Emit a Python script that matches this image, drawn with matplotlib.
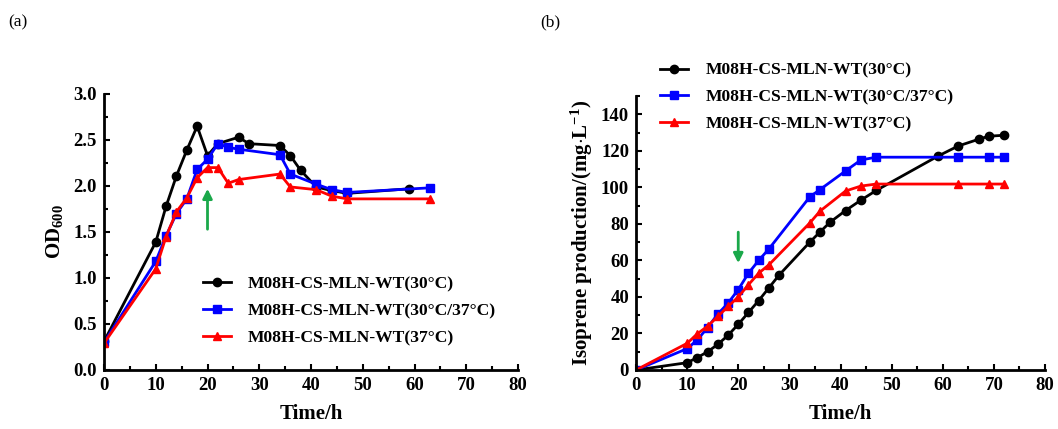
import matplotlib
matplotlib.use("Agg")
import matplotlib.pyplot as plt
from matplotlib.ticker import MultipleLocator

plt.rcParams["font.family"] = ["Liberation Serif", "DejaVu Serif"]
plt.rcParams["font.weight"] = "bold"
plt.rcParams["mathtext.fontset"] = "custom"
plt.rcParams["mathtext.rm"] = "Liberation Serif:bold"
plt.rcParams["mathtext.bf"] = "Liberation Serif:bold"
plt.rcParams["mathtext.it"] = "Liberation Serif:bold"

labels = ["M08H-CS-MLN-WT(30°C)", "M08H-CS-MLN-WT(30°C/37°C)", "M08H-CS-MLN-WT(37°C)"]
colors = ["black", "#0000ff", "#ff0000"]
markers = ["o", "s", "^"]

# (a) OD600
od_t_30 = [0, 10, 12, 14, 16, 18, 20, 22, 26, 28, 34, 36, 38, 41, 44, 47, 59]
od_30 = [0.31, 1.39, 1.78, 2.11, 2.39, 2.65, 2.33, 2.46, 2.53, 2.46, 2.44, 2.33, 2.17, 1.99, 1.95, 1.92, 1.97]
od_t = [0, 10, 12, 14, 16, 18, 20, 22, 24, 26, 34, 36, 41, 44, 47, 63]
od_shift = [0.30, 1.18, 1.46, 1.70, 1.86, 2.18, 2.29, 2.46, 2.42, 2.40, 2.34, 2.13, 2.02, 1.96, 1.93, 1.98]
od_37 = [0.29, 1.10, 1.45, 1.72, 1.87, 2.09, 2.20, 2.20, 2.03, 2.07, 2.13, 1.99, 1.96, 1.89, 1.86, 1.86]

# (b) isoprene production, mg/L
iso_t_30 = [0, 10, 12, 14, 16, 18, 20, 22, 24, 26, 28, 34, 36, 38, 41, 44, 47, 59, 63, 67, 69, 72]
iso_30 = [0, 4.0, 6.8, 10, 14, 19, 25, 31.5, 38, 45, 52, 70, 75.6, 81, 87.3, 93, 98.3, 117, 122.6, 126.3, 128, 128.5]
iso_t = [0, 10, 12, 14, 16, 18, 20, 22, 24, 26, 34, 36, 41, 44, 47, 63, 69, 72]
iso_shift = [0, 11.7, 16.5, 23.2, 30.6, 36.6, 44, 53, 60, 66.3, 94.8, 98.8, 109, 115, 116.5, 116.5, 116.5, 116.5]
iso_37 = [0, 14.6, 19.8, 24, 29.3, 34.8, 40, 46.7, 53, 57.6, 80.5, 87, 98, 100.7, 101.8, 101.8, 101.8, 101.8]

fig = plt.figure(figsize=(10.58, 4.29), dpi=100)
W, H = 1058, 429
ax1 = fig.add_axes([104 / W, 1 - 370 / H, 414 / W, 276 / H])
ax2 = fig.add_axes([636 / W, 1 - 370 / H, 409 / W, 274 / H])


def style(ax):
    for s in ("top", "right"):
        ax.spines[s].set_visible(False)
    for s in ("left", "bottom"):
        ax.spines[s].set_linewidth(2)
    ax.set_xlim(0, 80)
    ax.xaxis.set_major_locator(MultipleLocator(10))
    ax.xaxis.set_minor_locator(MultipleLocator(5))
    ax.tick_params(which="major", direction="in", length=4, width=1.5, labelsize=13.5, pad=5)
    ax.tick_params(which="minor", direction="in", length=3, width=1.5)
    for lab in ax.get_xticklabels() + ax.get_yticklabels():
        lab.set_fontweight("bold")
    ax.set_xlabel("Time/h", fontsize=15, fontweight="bold", labelpad=7)


series_a = [(od_t_30, od_30), (od_t, od_shift), (od_t, od_37)]
for (x, y), lab, c, m in zip(series_a, labels, colors, markers):
    ax1.plot(x, y, color=c, marker=m, markersize=6, linewidth=2, label=lab)
ax1.set_ylim(0, 3.0)
ax1.yaxis.set_major_locator(MultipleLocator(0.5))
ax1.yaxis.set_minor_locator(MultipleLocator(0.25))
ax1.yaxis.set_major_formatter(lambda v, p: f"{v:.1f}")
style(ax1)
ax1.set_ylabel("OD$_{600}$", fontsize=15, fontweight="bold", labelpad=6)
ax1.annotate("", xy=(20, 2.0), xytext=(20, 1.5),
             arrowprops=dict(arrowstyle="-|>", color="#1aa84a", lw=2, mutation_scale=14))
ax1.legend(loc="lower left", bbox_to_anchor=(0.2, 0.03), frameon=False, fontsize=12.6,
           handlelength=1.6, labelspacing=0.6, handletextpad=1.0)

series_b = [(iso_t_30, iso_30), (iso_t, iso_shift), (iso_t, iso_37)]
for (x, y), lab, c, m in zip(series_b, labels, colors, markers):
    ax2.plot(x, y, color=c, marker=m, markersize=6, linewidth=2, label=lab)
ax2.set_ylim(0, 150)
ax2.yaxis.set_major_locator(MultipleLocator(20))
ax2.yaxis.set_minor_locator(MultipleLocator(10))
style(ax2)
ax2.set_ylabel("Isoprene production/(mg$\\cdot$L$^{-1}$)", fontsize=15, fontweight="bold", labelpad=4)
ax2.annotate("", xy=(20, 57), xytext=(20, 77),
             arrowprops=dict(arrowstyle="-|>", color="#1aa84a", lw=2, mutation_scale=14))
ax2.legend(loc="upper left", bbox_to_anchor=(0.02, 1.18), frameon=False, fontsize=12.6,
           handlelength=1.6, labelspacing=0.6, handletextpad=1.0)

fig.text(8 / W, 1 - 22 / H, "(a)", fontsize=12.5, fontweight="normal", va="center")
fig.text(540 / W, 1 - 22 / H, "(b)", fontsize=12.5, fontweight="normal", va="center")

fig.savefig("out.png", dpi=100)
